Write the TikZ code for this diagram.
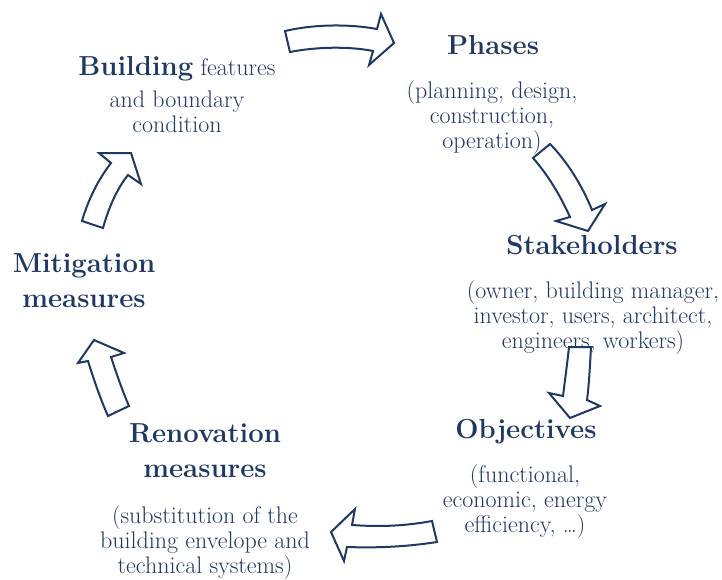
\documentclass[tikz,border=0pt]{standalone}
\usepackage{xcolor}
\definecolor{navy}{HTML}{1F3864}
\begin{document}
\begin{tikzpicture}[x=1pt,y=-1pt,
  head/.style={font=\fontsize{27.5}{34.5}\selectfont\bfseries, text=navy, align=center, inner sep=0pt, anchor=base},
  sub/.style={font=\fontsize{24}{25}\selectfont, text=navy, align=center, inner sep=0pt, anchor=base},
  bigarrow/.style={draw=navy, line width=2pt, fill=white, line join=miter}]
\useasboundingbox (0,0) rectangle (722,579);

% text blocks (anchor = baseline of last line)
\node[sub] (bld) at (177,132) {{\fontsize{27.5}{34}\selectfont\bfseries Building} features\\[7pt] and boundary\\ condition};
\node[head] (phh) at (493,54) {Phases};
\node[sub] (phs) at (492,148) {(planning, design,\\ construction,\\ operation)};
\node[head] (sth) at (592,254) {Stakeholders};
\node[sub] (sts) at (593,348) {(owner, building manager,\\ investor, users, architect,\\ engineers, workers)};
\node[head] (obh) at (526,438) {Objectives};
\node[sub] (obs) at (525,532) {(functional,\\ economic, energy\\ efficiency, \dots)};
\node[head] (reh) at (205,477) {Renovation\\ measures};
\node[sub] (res) at (205,573) {(substitution of the\\ building envelope and\\ technical systems)};
\node[head] (mih) at (84,307) {Mitigation\\ measures};

% block arrows
\draw[bigarrow] (285,31) .. controls (315,24) and (350,24) .. (377,29) -- (381,14) -- (394,43) -- (369,65) -- (373,51) .. controls (348,46) and (315,47) .. (290,52) -- cycle;
\draw[bigarrow] (533,158) -- (550,144) .. controls (566,160) and (582,185) .. (592,210) -- (605,204) -- (588,231) -- (556,221) -- (570,217) .. controls (560,195) and (548,175) .. (533,158) -- cycle;
\draw[bigarrow] (569,347) -- (591,347) .. controls (590,365) and (589,385) .. (587,400) -- (600,406) -- (570,418) -- (549,393) -- (563,396) .. controls (565,380) and (567,365) .. (569,347) -- cycle;
\draw[bigarrow] (432,521) -- (437,542) .. controls (405,547) and (375,548) .. (347,547) -- (344,561) -- (331,532) -- (355,509) -- (352,525) .. controls (380,527) and (405,526) .. (432,521) -- cycle;
\draw[bigarrow] (108,416) -- (129,406) .. controls (122,390) and (116,372) .. (111,357) -- (124,353) -- (94,340) -- (78,363) -- (88,361) .. controls (94,380) and (100,398) .. (108,416) -- cycle;
\draw[bigarrow] (82,221) -- (103,228) .. controls (108,210) and (116,190) .. (128,175) -- (141,184) -- (131,153) -- (99,153) -- (111,163) .. controls (98,180) and (88,200) .. (82,221) -- cycle;
\end{tikzpicture}
\end{document}
